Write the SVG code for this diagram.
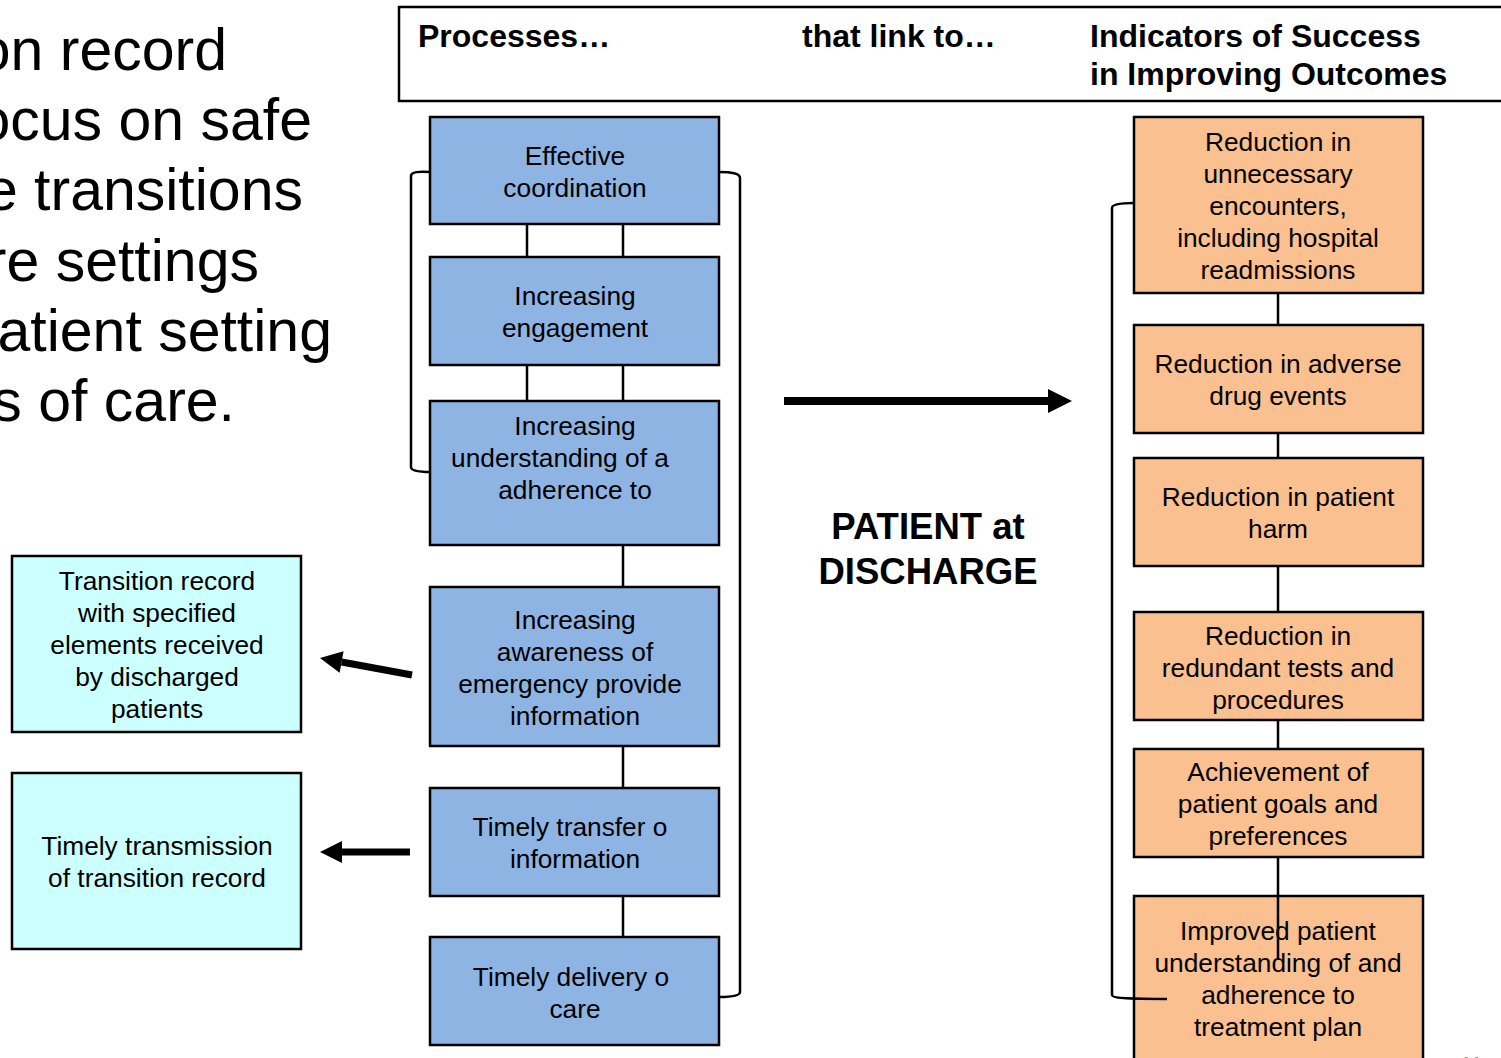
<svg xmlns="http://www.w3.org/2000/svg" width="1501" height="1058" viewBox="0 0 1501 1058">
<style>
text{font-family:"Liberation Sans",Arial,sans-serif;fill:#000}
.big{font-size:59px}
.hdr{font-size:32px;font-weight:bold}
.lbl{font-size:26.3px;text-anchor:middle}
.pat{font-size:36.5px;font-weight:bold;text-anchor:middle}
.blue{fill:#8EB4E3;stroke:#000;stroke-width:2.5}
.orange{fill:#FAC090;stroke:#000;stroke-width:2.5}
.cyan{fill:#CCFFFF;stroke:#000;stroke-width:2.5}
.ln{fill:none;stroke:#000;stroke-width:2.5}
.arr{fill:none;stroke:#000}
</style>
<defs>
<marker id="ah" markerUnits="userSpaceOnUse" markerWidth="26" markerHeight="26" refX="0" refY="12" orient="auto" overflow="visible">
<path d="M0,0 L24,12 L0,24 z" fill="#000"/>
</marker>
<marker id="ahs" markerUnits="userSpaceOnUse" markerWidth="24" markerHeight="24" refX="0" refY="11" orient="auto" overflow="visible">
<path d="M0,0 L22,11 L0,22 z" fill="#000"/>
</marker>
</defs>
<rect width="1501" height="1058" fill="#fff"/>

<g id="slide-text">
<text class="big" x="227" y="70" text-anchor="end">on record</text>
<text class="big" x="312" y="140" text-anchor="end">ocus on safe</text>
<text class="big" x="303" y="210" text-anchor="end">e transitions</text>
<text class="big" x="259" y="281" text-anchor="end">re settings</text>
<text class="big" x="332" y="351" text-anchor="end">atient setting</text>
<text class="big" x="235" y="421" text-anchor="end">s of care.</text>
</g>

<g id="header">
<rect x="399" y="7" width="1120" height="94" fill="#fff" stroke="#000" stroke-width="2.5"/>
<text class="hdr" x="418" y="47">Processes…</text>
<text class="hdr" x="802" y="47">that link to…</text>
<text class="hdr" x="1090" y="47">Indicators of Success</text>
<text class="hdr" x="1090" y="85">in Improving Outcomes</text>
</g>

<g id="p1"><rect class="blue" x="430" y="117" width="289" height="107"/>
<text class="lbl" x="575" y="165">Effective</text><text class="lbl" x="575" y="197">coordination</text></g>
<g id="p2"><rect class="blue" x="430" y="257" width="289" height="108"/>
<text class="lbl" x="575" y="305">Increasing</text><text class="lbl" x="575" y="337">engagement</text></g>
<g id="p3"><rect class="blue" x="430" y="401" width="289" height="144"/>
<text class="lbl" x="575" y="435">Increasing</text><text class="lbl" x="560" y="467">understanding of a</text><text class="lbl" x="575" y="499">adherence to</text></g>
<g id="p4"><rect class="blue" x="430" y="587" width="289" height="159"/>
<text class="lbl" x="575" y="629">Increasing</text><text class="lbl" x="575" y="661">awareness of</text><text class="lbl" x="570" y="693">emergency provide</text><text class="lbl" x="575" y="725">information</text></g>
<g id="p5"><rect class="blue" x="430" y="788" width="289" height="108"/>
<text class="lbl" x="570" y="836">Timely transfer o</text><text class="lbl" x="575" y="868">information</text></g>
<g id="p6"><rect class="blue" x="430" y="937" width="289" height="108"/>
<text class="lbl" x="571" y="986">Timely delivery o</text><text class="lbl" x="575" y="1018">care</text></g>

<g id="o1"><rect class="orange" x="1134" y="117" width="289" height="176"/>
<text class="lbl" x="1278" y="151">Reduction in</text><text class="lbl" x="1278" y="183">unnecessary</text><text class="lbl" x="1278" y="215">encounters,</text><text class="lbl" x="1278" y="247">including hospital</text><text class="lbl" x="1278" y="279">readmissions</text></g>
<g id="o2"><rect class="orange" x="1134" y="325" width="289" height="108"/>
<text class="lbl" x="1278" y="373">Reduction in adverse</text><text class="lbl" x="1278" y="405">drug events</text></g>
<g id="o3"><rect class="orange" x="1134" y="458" width="289" height="108"/>
<text class="lbl" x="1278" y="506">Reduction in patient</text><text class="lbl" x="1278" y="538">harm</text></g>
<g id="o4"><rect class="orange" x="1134" y="612" width="289" height="108"/>
<text class="lbl" x="1278" y="645">Reduction in</text><text class="lbl" x="1278" y="677">redundant tests and</text><text class="lbl" x="1278" y="709">procedures</text></g>
<g id="o5"><rect class="orange" x="1134" y="749" width="289" height="108"/>
<text class="lbl" x="1278" y="781">Achievement of</text><text class="lbl" x="1278" y="813">patient goals and</text><text class="lbl" x="1278" y="845">preferences</text></g>
<g id="o6"><rect class="orange" x="1134" y="896" width="289" height="180"/>
<text class="lbl" x="1278" y="940">Improved patient</text><text class="lbl" x="1278" y="972">understanding of and</text><text class="lbl" x="1278" y="1004">adherence to</text><text class="lbl" x="1278" y="1036">treatment plan</text></g>

<g id="c1"><rect class="cyan" x="12" y="556" width="289" height="176"/>
<text class="lbl" x="157" y="590">Transition record</text><text class="lbl" x="157" y="622">with specified</text><text class="lbl" x="157" y="654">elements received</text><text class="lbl" x="157" y="686">by discharged</text><text class="lbl" x="157" y="718">patients</text></g>
<g id="c2"><rect class="cyan" x="12" y="773" width="289" height="176"/>
<text class="lbl" x="157" y="855">Timely transmission</text><text class="lbl" x="157" y="887">of transition record</text></g>

<g id="patient"><text class="pat" x="928" y="539">PATIENT at</text><text class="pat" x="928" y="584">DISCHARGE</text></g>

<g id="connectors">
<path class="ln" d="M527,224 V257 M623,224 V257 M527,365 V401 M623,365 V401 M623,545 V587 M623,746 V788 M623,896 V937"/>
<path class="ln" d="M430,172 C419,171 411,172 411,176 L411,467 C411,471 419,472 430,472"/>
<path class="ln" d="M719,172 C731,172 740,173 740,178 L740,992 C740,996 731,997 719,997"/>
<path class="ln" d="M1278,293 V325 M1278,433 V458 M1278,566 V612 M1278,720 V749 M1278,857 V960"/>
<path class="ln" d="M1134,203 C1124,203 1112,204 1112,208 L1112,995 C1112,998 1124,999 1167,999"/>
<line class="arr" x1="784" y1="401" x2="1048" y2="401" stroke-width="8" marker-end="url(#ah)"/>
<line class="arr" x1="412" y1="675" x2="341.6" y2="662" stroke-width="7" marker-end="url(#ahs)"/>
<line class="arr" x1="410" y1="852" x2="342" y2="852" stroke-width="7" marker-end="url(#ahs)"/>
</g>
<text x="1460" y="1072" font-size="22" fill="#888" style="fill:#888">11</text>
</svg>
